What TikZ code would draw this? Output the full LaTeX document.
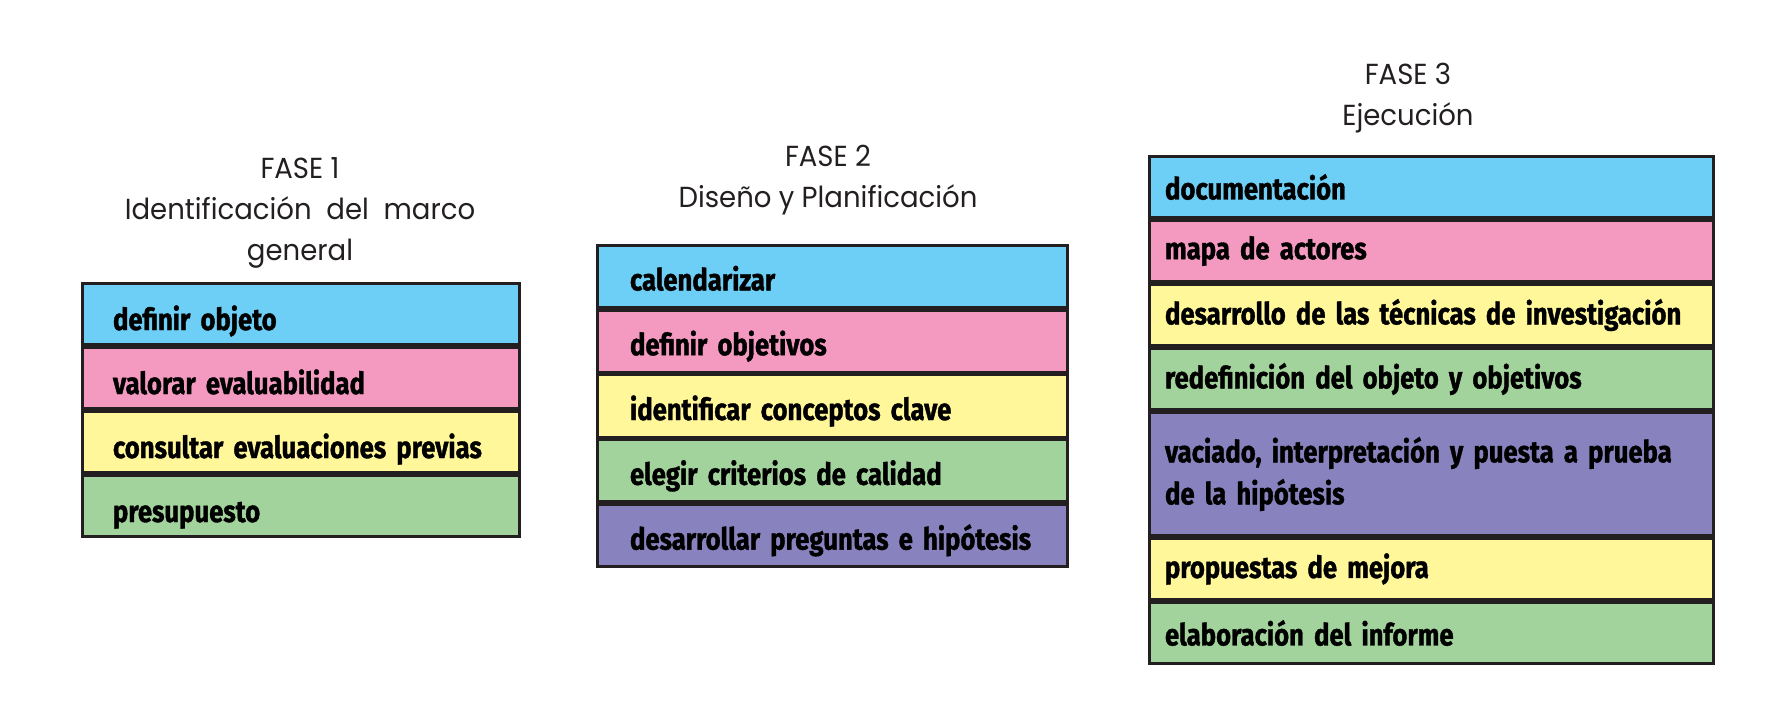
\documentclass[tikz,border=0pt]{standalone}
\usepackage{fontspec}
\setmainfont{Fira Sans}
\newfontfamily\cellfont[FakeStretch=0.845,BoldFeatures={FakeBold=1.2}]{Fira Sans}
\newfontfamily\titlefont[FakeStretch=0.95]{Poppins}
\usetikzlibrary{positioning}
\definecolor{ink}{HTML}{231F20}
\definecolor{cyanrow}{HTML}{6DCFF6}
\definecolor{pinkrow}{HTML}{F49AC1}
\definecolor{yellowrow}{HTML}{FFF799}
\definecolor{greenrow}{HTML}{A3D39C}
\definecolor{purplerow}{HTML}{8882BE}

\begin{document}
\begin{tikzpicture}[x=0.5pt,y=-0.5pt,
  cell/.style={draw=ink,line width=1.4pt,align=left,anchor=north west,
    inner ysep=0pt,minimum height=30.6pt,font=\cellfont\bfseries\fontsize{15.2}{21}\selectfont},
  colA/.style={cell,text width=188pt,inner xsep=15.3pt,text height=17.5pt,text depth=1.5pt},
  colB/.style={cell,text width=202.5pt,inner xsep=16.3pt,minimum height=31pt,
    text height=15.5pt,text depth=1.5pt},
  colC/.style={cell,text width=266.5pt,inner xsep=7.8pt},
  phase/.style={align=center,text=ink,font=\titlefont\fontsize{14.5}{20.5}\selectfont}]
  \useasboundingbox (0,0) rectangle (1770,723);

  % FASE 1
  \node[phase] (t1) at (300,213) {FASE 1\\Identificación\ \ del\ \ marco\\general};
  \node[colA,fill=cyanrow] (a1) at (81,282) {definir objeto};
  \foreach \txt/\col [count=\i from 2] in {valorar evaluabilidad/pinkrow,
      consultar evaluaciones previas/yellowrow,presupuesto/greenrow} {
    \pgfmathtruncatemacro\j{\i-1}
    \node[colA,fill=\col,below=0pt of a\j] (a\i) {\txt};
  }

  % FASE 2
  \node[phase] (t2) at (828,180) {FASE 2\\Diseño y Planificación};
  \node[colB,fill=cyanrow] (b1) at (596,244) {calendarizar};
  \foreach \txt/\col [count=\i from 2] in {definir objetivos/pinkrow,
      identificar conceptos clave/yellowrow,elegir criterios de calidad/greenrow,
      desarrollar preguntas e hipótesis/purplerow} {
    \pgfmathtruncatemacro\j{\i-1}
    \node[colB,fill=\col,below=0pt of b\j] (b\i) {\txt};
  }

  % FASE 3
  \node[phase] (t3) at (1408,98) {FASE 3\\Ejecución};
  \node[colC,fill=cyanrow] (c1) at (1148,155) {documentación};
  \foreach \txt/\col/\h [count=\i from 2] in {mapa de actores/pinkrow/30.6pt,
      desarrollo de las técnicas de investigación/yellowrow/30.6pt,
      redefinición del objeto y objetivos/greenrow/30.6pt,
      {vaciado, interpretación y puesta a prueba\\de la hipótesis}/purplerow/61.6pt,
      propuestas de mejora/yellowrow/30.6pt,elaboración del informe/greenrow/30.6pt} {
    \pgfmathtruncatemacro\j{\i-1}
    \node[colC,fill=\col,minimum height=\h,below=0pt of c\j] (c\i) {\txt};
  }
\end{tikzpicture}
\end{document}
